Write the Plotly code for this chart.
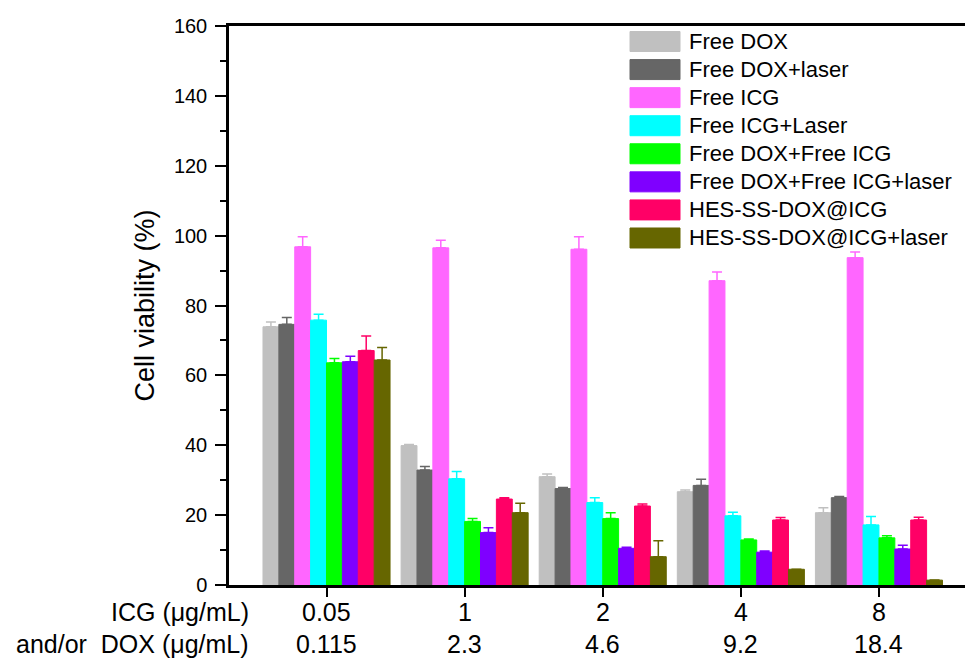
import plotly.graph_objects as go

# ---------------- data ----------------
icg_conc = ["0.05", "1", "2", "4", "8"]
dox_conc = ["0.115", "2.3", "4.6", "9.2", "18.4"]

series_names = [
    "Free DOX",
    "Free DOX+laser",
    "Free ICG",
    "Free ICG+Laser",
    "Free DOX+Free ICG",
    "Free DOX+Free ICG+laser",
    "HES-SS-DOX@ICG",
    "HES-SS-DOX@ICG+laser",
]

free_dox = [73.9, 39.9, 31.0, 26.7, 20.7]
free_dox_err = [1.4, 0.3, 0.8, 0.5, 1.4]
free_dox_laser = [74.6, 32.9, 27.6, 28.5, 25.0]
free_dox_laser_err = [2.0, 1.0, 0.3, 1.8, 0.3]
free_icg = [96.8, 96.5, 96.1, 87.1, 93.7]
free_icg_err = [2.9, 2.2, 3.6, 2.5, 1.6]
free_icg_laser = [75.8, 30.4, 23.6, 19.8, 17.2]
free_icg_laser_err = [1.7, 2.1, 1.4, 1.0, 2.4]
dox_icg = [63.6, 18.2, 19.0, 12.9, 13.5]
dox_icg_err = [1.2, 0.8, 1.7, 0.3, 0.6]
dox_icg_laser = [63.9, 15.0, 10.5, 9.4, 10.3]
dox_icg_laser_err = [1.6, 1.4, 0.3, 0.3, 1.1]
hes = [67.1, 24.6, 22.6, 18.6, 18.6]
hes_err = [4.2, 0.4, 0.6, 0.7, 0.8]
hes_laser = [64.4, 20.7, 8.1, 4.5, 1.4]
hes_laser_err = [3.6, 2.7, 4.6, 0.0, 0.0]

values = [free_dox, free_dox_laser, free_icg, free_icg_laser,
          dox_icg, dox_icg_laser, hes, hes_laser]
errors = [free_dox_err, free_dox_laser_err, free_icg_err, free_icg_laser_err,
          dox_icg_err, dox_icg_laser_err, hes_err, hes_laser_err]
colors = ["#C0C0C0", "#666666", "#FF66FF", "#00FFFF",
          "#00FF00", "#7F00FF", "#FF0066", "#666600"]

y_ticks = [0, 20, 40, 60, 80, 100, 120, 140, 160]

FONT = "Liberation Sans, Arial, sans-serif"

fig = go.Figure()
for name, vals, errs, col in zip(series_names, values, errors, colors):
    fig.add_trace(go.Bar(
        x=icg_conc, y=vals, name=name,
        marker=dict(color=col, line=dict(color=col, width=1)),
        error_y=dict(type="data", symmetric=False, array=errs,
                     arrayminus=[0] * len(errs), color=col,
                     thickness=1.5, width=5),
        showlegend=False,
    ))

# ---------------- layout ----------------
L, R, T, B = 229, 0, 26, 75
W, H = 965, 660
pw, ph = W - L - R, H - T - B

def px_x(px):
    return (px - L) / pw

def px_y(py):
    return (H - B - py) / ph

fig.update_layout(
    width=W, height=H,
    margin=dict(l=L, r=R, t=T, b=B, pad=0),
    paper_bgcolor="white", plot_bgcolor="white",
    barmode="group", bargap=0.08, bargroupgap=0,
    font=dict(family=FONT, color="black"),
    showlegend=False,
)
fig.update_xaxes(
    type="category", range=[-0.706, 4.623],
    showline=True, linecolor="black", linewidth=2.5, mirror=True,
    ticks="outside", ticklen=9, tickwidth=2, tickcolor="black",
    showticklabels=False, showgrid=False, zeroline=False,
)
fig.update_yaxes(
    range=[0, 160], tickvals=y_ticks,
    showline=True, linecolor="black", linewidth=2.5,
    ticks="outside", ticklen=11, tickwidth=2, tickcolor="black",
    minor=dict(dtick=10, ticks="outside", ticklen=6, tickwidth=2, tickcolor="black"),
    tickfont=dict(size=20, family=FONT), ticklabelstandoff=4,
    showgrid=False, zeroline=False,
    title=dict(text="Cell viability (%)", font=dict(size=27, family=FONT), standoff=12),
)

# x tick labels (two rows), placed at category index positions
row1_y, row2_y = 612, 644
XF = 25
for idx, (ic, dc) in enumerate(zip(icg_conc, dox_conc)):
    fig.add_annotation(x=idx, xref="x", y=px_y(row1_y), yref="paper", text=ic,
                       showarrow=False, xanchor="center", yanchor="middle",
                       font=dict(size=XF, family=FONT))
    fig.add_annotation(x=idx, xref="x", y=px_y(row2_y), yref="paper", text=dc,
                       showarrow=False, xanchor="center", yanchor="middle",
                       font=dict(size=XF, family=FONT))
fig.add_annotation(x=px_x(251), xref="paper", y=px_y(row1_y), yref="paper",
                   text="ICG (\u03bcg/mL)", showarrow=False, xanchor="right",
                   yanchor="middle", font=dict(size=XF, family=FONT))
fig.add_annotation(x=px_x(251), xref="paper", y=px_y(row2_y), yref="paper",
                   text="and/or\u00a0 DOX (\u03bcg/mL)", showarrow=False, xanchor="right",
                   yanchor="middle", font=dict(size=XF, family=FONT))

# legend (swatches + labels)
leg_x0, leg_x1, text_x = 630, 680, 687
row0, row_step, sw_h = 41.5, 28.07, 20
for i, (name, col) in enumerate(zip(series_names, colors)):
    cy = row0 + i * row_step
    fig.add_shape(type="rect", xref="paper", yref="paper",
                  x0=px_x(leg_x0), x1=px_x(leg_x1),
                  y0=px_y(cy + sw_h / 2), y1=px_y(cy - sw_h / 2),
                  fillcolor=col, line=dict(color=col, width=1))
    fig.add_annotation(x=px_x(text_x), xref="paper", y=px_y(cy), yref="paper",
                       text=name, showarrow=False, xanchor="left", yanchor="middle",
                       font=dict(size=22, family=FONT))

fig.write_html("out.html")
